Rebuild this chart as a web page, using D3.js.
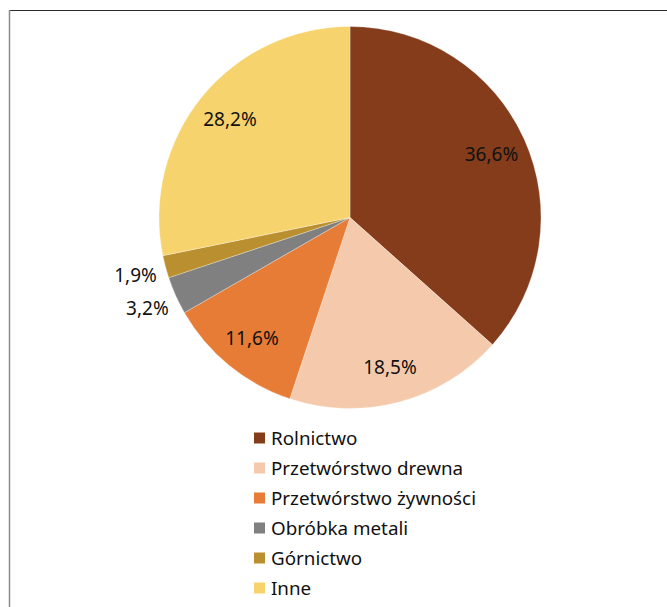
<!DOCTYPE html>
<html><head><meta charset="utf-8">
<script src="https://cdn.jsdelivr.net/npm/d3@7"></script>
<style>body{margin:0;background:#fff}svg{display:block}</style>
</head><body>
<svg id="c" width="667" height="607"></svg>
<script>
const categories = ["Rolnictwo","Przetwórstwo drewna","Przetwórstwo żywności","Obróbka metali","Górnictwo","Inne"];
const values = [36.6, 18.5, 11.6, 3.2, 1.9, 28.2];
const labels = ["36,6%","18,5%","11,6%","3,2%","1,9%","28,2%"];
const colors = ["#843C1B","#F5CAAC","#E77C37","#808080","#B98F2F","#F6D36D"];
const outside = [false,false,false,true,true,false];

const svg = d3.select("#c");
const font = "'Noto Sans', sans-serif";
// frame
svg.append("line").attr("x1",9).attr("x2",667).attr("y1",10.5).attr("y2",10.5).attr("stroke","#2a2a2a").attr("stroke-width",1.2);
svg.append("line").attr("x1",9.5).attr("x2",9.5).attr("y1",10).attr("y2",607).attr("stroke","#8a8a8a").attr("stroke-width",1.5);

const cx = 350, cy = 217.5, R = 191;
const g = svg.append("g").attr("transform",`translate(${cx},${cy})`);
const pie = d3.pie().sort(null).value(d=>d)(values);
const arc = d3.arc().innerRadius(0).outerRadius(R);
g.selectAll("path").data(pie).join("path")
  .attr("d",arc).attr("fill",(d,i)=>colors[i])
  .attr("stroke","#fff").attr("stroke-width",0.3);

const inArc = d3.arc().innerRadius(155).outerRadius(155);
const outArc = d3.arc().innerRadius(222).outerRadius(222);
g.selectAll("text.lbl").data(pie).join("text").attr("class","lbl")
  .attr("transform",(d,i)=>`translate(${(outside[i]?outArc:inArc).centroid(d)})`)
  .attr("text-anchor","middle").attr("dominant-baseline","central")
  .attr("font-family",font).attr("font-size",19).attr("fill","#111")
  .text((d,i)=>labels[i]);

// legend
const ly = d3.scaleBand().domain(categories).range([423,603]);
const lg = svg.append("g");
const row = lg.selectAll("g").data(categories).join("g")
  .attr("transform",d=>`translate(254,${ly(d)+ly.bandwidth()/2})`);
row.append("rect").attr("x",0).attr("y",-5.5).attr("width",11).attr("height",11).attr("fill",(d,i)=>colors[i]);
row.append("text").attr("x",17).attr("y",0).attr("dominant-baseline","central")
  .attr("font-family",font).attr("font-size",18.8).attr("fill","#111").text(d=>d);
</script>
</body></html>
